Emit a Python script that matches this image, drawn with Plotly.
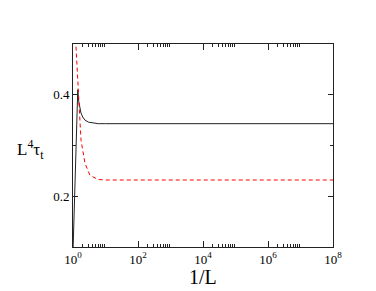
import plotly.graph_objects as go

# data
x_black = [1.0, 1.4, 1.5, 1.76, 2.0, 2.34, 3.0, 4.2, 6.0, 10.0, 100.0, 1e8]
y_black = [0.09, 0.41, 0.387, 0.364, 0.356, 0.350, 0.346, 0.344, 0.343, 0.343, 0.343, 0.343]
x_red = [1.0, 1.24, 1.45, 1.76, 2.34, 3.33, 6.0, 10.0, 100.0, 1e8]
y_red = [0.605, 0.489, 0.40, 0.311, 0.265, 0.241, 0.233, 0.232, 0.232, 0.232]

x_major = [1, 1e2, 1e4, 1e6, 1e8]
x_major_text = ["10<sup>0</sup>", "10<sup>2</sup>", "10<sup>4</sup>", "10<sup>6</sup>", "10<sup>8</sup>"]
x_minor = [2, 3, 4, 5, 6, 7, 8, 9, 200, 300, 400, 500, 600, 700, 800, 900,
           2e4, 3e4, 4e4, 5e4, 6e4, 7e4, 8e4, 9e4, 2e6, 3e6, 4e6, 5e6, 6e6, 7e6, 8e6, 9e6]
y_major = [0.2, 0.4]
y_minor = [0.1, 0.3, 0.5]

font = "Liberation Serif, Times New Roman, serif"

fig = go.Figure()
fig.add_trace(go.Scatter(x=x_black, y=y_black, mode="lines",
                         line=dict(color="#222222", width=1), showlegend=False))
fig.add_trace(go.Scatter(x=x_red, y=y_red, mode="lines",
                         line=dict(color="#ff0000", width=1, dash="4px,3px"), showlegend=False))

# page body has an 8px default margin; compensate in figure size and margins
fig.update_layout(
    width=368, height=283,
    margin=dict(l=65, r=43, t=36, b=44, autoexpand=False),
    paper_bgcolor="white", plot_bgcolor="white",
    font=dict(family=font, color="black", size=13),
    xaxis=dict(type="log", range=[0, 8], showgrid=False, zeroline=False, automargin=False,
               showline=True, linecolor="#222", linewidth=1, mirror="ticks",
               ticks="inside", ticklen=6, tickcolor="#222",
               tickmode="array", tickvals=x_major, ticktext=x_major_text,
               tickfont=dict(size=13, family=font),
               minor=dict(ticks="inside", ticklen=3, tickcolor="#222",
                          tickmode="array", tickvals=x_minor, showgrid=False)),
    yaxis=dict(range=[0.1, 0.5], showgrid=False, zeroline=False, automargin=False,
               showline=True, linecolor="#222", linewidth=1, mirror="ticks",
               ticks="inside", ticklen=5, tickcolor="#222",
               tickmode="array", tickvals=y_major, ticktext=["0.2", "0.4"],
               tickfont=dict(size=13, family=font),
               minor=dict(ticks="inside", ticklen=3, tickcolor="#222",
                          tickmode="array", tickvals=y_minor, showgrid=False)),
    annotations=[
        dict(text="L<sup>4</sup>τ<sub>t</sub>", xref="paper", yref="paper",
             x=-0.165, y=0.48, xanchor="center", yanchor="middle", showarrow=False,
             font=dict(size=17, family=font, color="black")),
        dict(text="1/L", xref="paper", yref="paper",
             x=0.5, y=-0.15, xanchor="center", yanchor="middle", showarrow=False,
             borderpad=0, font=dict(size=20, family=font, color="black")),
    ],
)

fig.write_html("out.html")
